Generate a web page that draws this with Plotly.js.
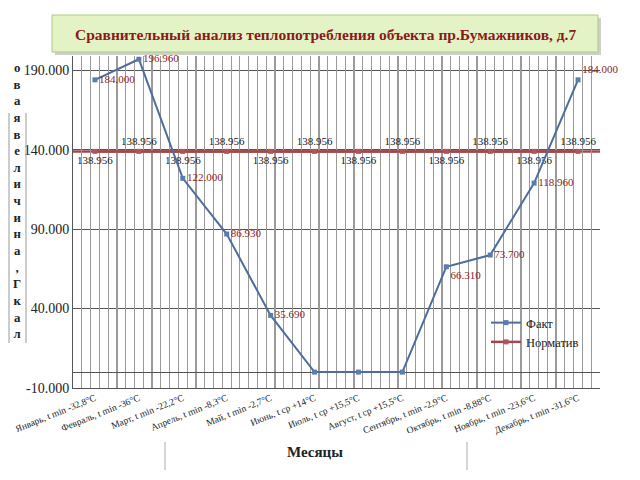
<!DOCTYPE html>
<html>
<head>
<meta charset="utf-8">
<script src="https://cdn.plot.ly/plotly-3.0.1.min.js"></script>
<style>html,body{margin:0;padding:0;background:#fff;}#chart{width:640px;height:480px;}</style>
</head>
<body>
<div id="chart"></div>
<script>
var months = ["Январь, t min -32,8°C","Февраль, t min -36°C","Март, t min -22,2°C","Апрель, t min -8,3°C","Май, t min -2,7°C","Июнь, t ср +14°C","Июль, t ср +15,5°C","Август, t ср +15,5°C","Сентябрь, t min -2,9°C","Октябрь, t min -8,88°C","Ноябрь, t min -23,6°C","Декабрь, t min -31,6°C"];
var fact = [184.000, 196.960, 122.000, 86.930, 35.690, 0, 0, 0, 66.310, 73.700, 118.960, 184.000];
var norm = [138.956, 138.956, 138.956, 138.956, 138.956, 138.956, 138.956, 138.956, 138.956, 138.956, 138.956, 138.956];
var yTicks = [-10, 40, 90, 140, 190];

var serif = "Liberation Serif, Times New Roman, serif";
var idx = months.map(function(_, i){ return i; });
var L = 73, R = 600, T = 56, B = 388;
function px(x){ return (x - L) / (R - L); }
function py(y){ return 1 - (y - T) / (B - T); }

var factText = fact.map(function(v){ return v === 0 ? "" : v.toFixed(3); });
var factPos = fact.map(function(v, i){ return i === 8 ? "bottom right" : (i === 11 ? "top right" : "middle right"); });
var normPos = norm.map(function(v, i){ return i % 2 === 0 ? "bottom center" : "top center"; });

var traces = [
  {x: idx, y: norm, name: "Норматив", type: "scatter", mode: "lines+markers+text",
   line: {color: "#A0484B", width: 2.5}, marker: {symbol: "square", size: 5, color: "#B55457"},
   text: norm.map(function(v){ return v.toFixed(3); }), textposition: normPos,
   textfont: {family: serif, size: 11, color: "#1a1a1a"}, cliponaxis: false, legendrank: 2},
  {x: idx, y: fact, name: "Факт", type: "scatter", mode: "lines+markers+text",
   line: {color: "#4E6D9C", width: 2}, marker: {symbol: "square", size: 5, color: "#5A7DB0"},
   text: factText, textposition: factPos,
   textfont: {family: serif, size: 11, color: "#8B1C1C"}, cliponaxis: false, legendrank: 1},
  {x: [-0.5], y: [0], xaxis: "x2", type: "scatter", mode: "markers", marker: {opacity: 0}, showlegend: false, hoverinfo: "skip"}
];

var letters = ["о","в","а","я","в","е","л","и","ч","и","н","а",",","Г","к","а","л"];

var layout = {
  width: 640, height: 480,
  margin: {l: L, r: 640 - R, t: T, b: 480 - B},
  paper_bgcolor: "#ffffff", plot_bgcolor: "#ffffff",
  font: {family: serif, color: "#222"},
  showlegend: true,
  legend: {x: px(486), y: py(308), xanchor: "left", yanchor: "top", bgcolor: "rgba(0,0,0,0)",
           font: {family: serif, size: 12.5, color: "#222"}, tracegroupgap: 0, itemwidth: 30},
  xaxis: {range: [-0.5, 11.5], tickvals: idx, ticktext: months, tickangle: -22,
          tickfont: {family: serif, size: 9.5, color: "#222"}, showgrid: false, zeroline: false,
          showline: true, linecolor: "#555", ticks: "", fixedrange: true},
  xaxis2: {range: [-0.5, 11.5], overlaying: "x", tick0: -0.5, dtick: 0.2, showticklabels: false,
           showgrid: true, gridcolor: "#9a9a9a", gridwidth: 1.2, zeroline: false, ticks: ""},
  yaxis: {range: [-10, 199], tickvals: yTicks, ticktext: yTicks.map(function(v){ return v.toFixed(3); }),
          tickfont: {family: serif, size: 14, color: "#222"}, showgrid: true, gridcolor: "#555", gridwidth: 1,
          zeroline: true, zerolinecolor: "#555", zerolinewidth: 1, showline: true, linecolor: "#555", ticks: ""},
  shapes: [
    {type: "rect", xref: "paper", yref: "paper", x0: px(55), x1: px(601), y0: py(55), y1: py(18),
     fillcolor: "#cfcfcf", line: {width: 0}},
    {type: "rect", xref: "paper", yref: "paper", x0: px(52), x1: px(598), y0: py(52), y1: py(15),
     fillcolor: "#E3F3C6", line: {color: "#A9CB7E", width: 1}},
    {type: "line", xref: "paper", yref: "y", x0: 0, x1: 1, y0: norm[0], y1: norm[0],
     line: {color: "#A0484B", width: 2.5}, layer: "below"},
    {type: "line", xref: "paper", yref: "paper", x0: px(9), x1: px(9), y0: py(113), y1: py(343), line: {color: "#aaa", width: 1.2}},
    {type: "line", xref: "paper", yref: "paper", x0: px(26), x1: px(26), y0: py(113), y1: py(343), line: {color: "#aaa", width: 1.2}},
    {type: "line", xref: "paper", yref: "paper", x0: px(165), x1: px(165), y0: py(442), y1: py(470), line: {color: "#bbb", width: 1.2}},
    {type: "line", xref: "paper", yref: "paper", x0: px(467), x1: px(467), y0: py(442), y1: py(470), line: {color: "#bbb", width: 1.2}}
  ],
  annotations: [
    {text: "<b>Сравнительный анализ теплопотребления объекта пр.Бумажников, д.7</b>", xref: "paper", yref: "paper",
     x: px(325), y: py(34), xanchor: "center", yanchor: "middle", showarrow: false,
     font: {family: serif, size: 15.5, color: "#8B1A1A"}},
    {text: "<b>Месяцы</b>", xref: "paper", yref: "paper", x: px(315), y: py(452), xanchor: "center", yanchor: "middle",
     showarrow: false, font: {family: serif, size: 15, color: "#222"}},
    {text: "<b>" + letters.join("<br>") + "</b>", xref: "paper", yref: "paper", x: px(17), y: py(201),
     xanchor: "center", yanchor: "middle", showarrow: false, align: "center",
     font: {family: serif, size: 12.8, color: "#222"}}
  ]
};

Plotly.newPlot("chart", traces, layout, {staticPlot: true, displayModeBar: false});
</script>
</body>
</html>
